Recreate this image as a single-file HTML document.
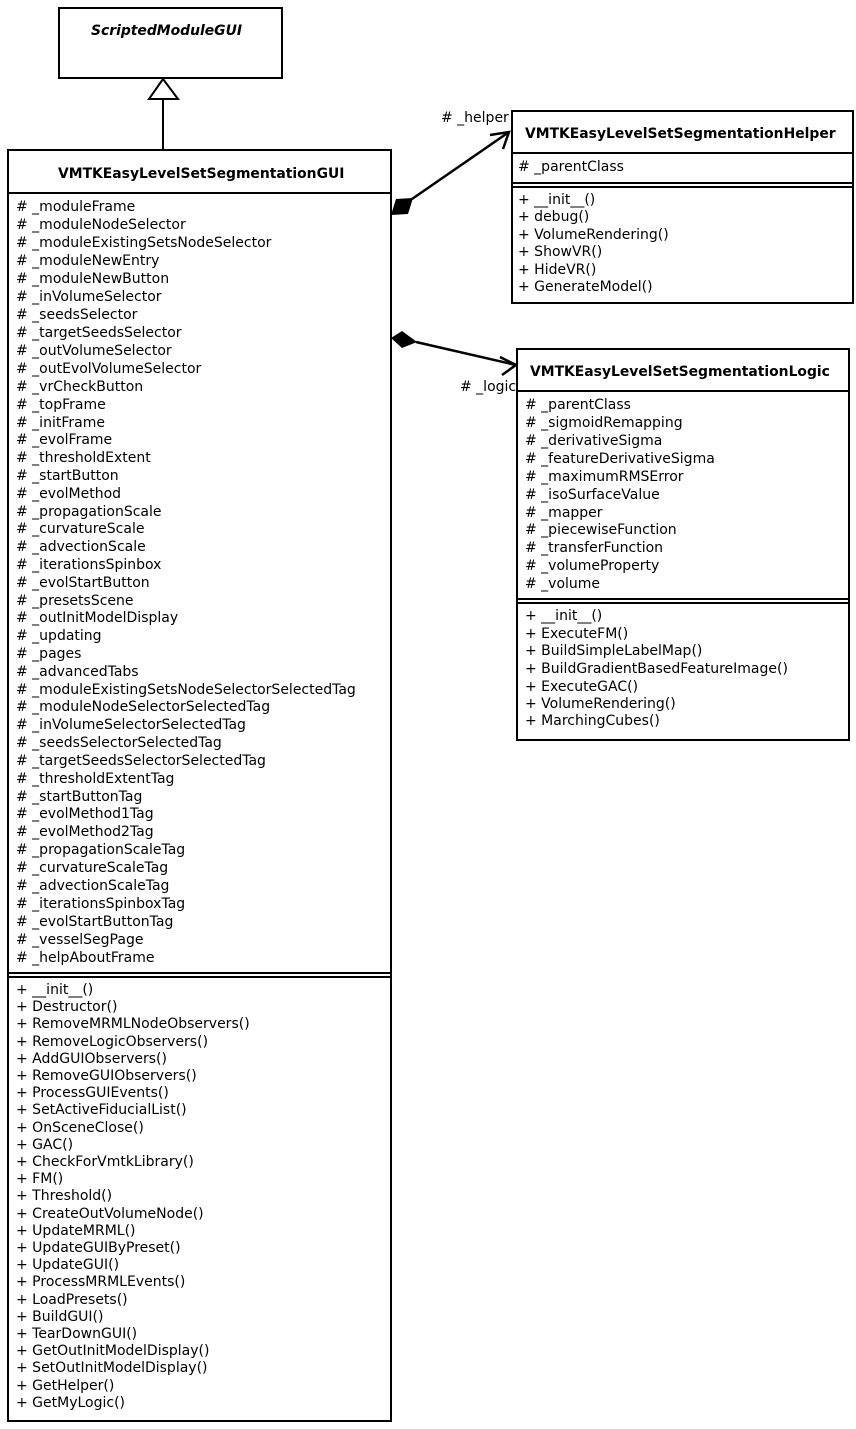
<!DOCTYPE html>
<html><head><meta charset="utf-8"><style>
html,body{margin:0;padding:0;background:#fff;}
svg{display:block;}
text{font-family:"DejaVu Sans","Liberation Sans",sans-serif;font-size:14px;fill:#000;}
.b{font-weight:bold;font-size:13.9px;}
</style></head><body>
<svg width="856" height="1429" viewBox="0 0 856 1429" xmlns="http://www.w3.org/2000/svg">
<g fill="none" stroke="#000" stroke-width="2">
<rect x="59" y="8" width="223" height="70" fill="#fff"/>
<polygon points="163,79 149,99 178,99" fill="#fff"/>
<line x1="163" y1="99" x2="163" y2="150"/>
<rect x="8" y="150" width="383" height="1271"/>
<line x1="8" y1="193" x2="391" y2="193"/>
<line x1="8" y1="973" x2="391" y2="973"/>
<line x1="8" y1="977" x2="391" y2="977"/>
<rect x="512" y="111" width="341" height="192"/>
<line x1="512" y1="153" x2="853" y2="153"/>
<line x1="512" y1="183" x2="853" y2="183"/>
<line x1="512" y1="187" x2="853" y2="187"/>
<rect x="517" y="349" width="332" height="391"/>
<line x1="517" y1="391" x2="849" y2="391"/>
<line x1="517" y1="599" x2="849" y2="599"/>
<line x1="517" y1="603" x2="849" y2="603"/>
<line x1="412" y1="199" x2="509" y2="132" stroke-width="2.5"/>
<polyline points="490,135 509,132 503,149" stroke-width="2.5"/>
<line x1="416" y1="342" x2="516" y2="365" stroke-width="2.5"/>
<polyline points="500,357 516,365 502,375" stroke-width="2.5"/>
</g>
<polygon points="391,215 396,199 413,198 408,214" fill="#000"/>
<polygon points="391,338 402,331 417,342 402,348" fill="#000"/>
<text x="91" y="35" class="b" font-style="italic">ScriptedModuleGUI</text>
<text x="58" y="178" class="b">VMTKEasyLevelSetSegmentationGUI</text>
<text x="525" y="138" class="b">VMTKEasyLevelSetSegmentationHelper</text>
<text x="530" y="376" class="b">VMTKEasyLevelSetSegmentationLogic</text>
<text x="441" y="122">#  _helper</text>
<text x="460" y="391">#  _logic</text>
<g>
<text x="16" y="211">#  _moduleFrame</text>
<text x="16" y="229">#  _moduleNodeSelector</text>
<text x="16" y="247">#  _moduleExistingSetsNodeSelector</text>
<text x="16" y="265">#  _moduleNewEntry</text>
<text x="16" y="283">#  _moduleNewButton</text>
<text x="16" y="301">#  _inVolumeSelector</text>
<text x="16" y="319">#  _seedsSelector</text>
<text x="16" y="337">#  _targetSeedsSelector</text>
<text x="16" y="355">#  _outVolumeSelector</text>
<text x="16" y="373">#  _outEvolVolumeSelector</text>
<text x="16" y="391">#  _vrCheckButton</text>
<text x="16" y="409">#  _topFrame</text>
<text x="16" y="427">#  _initFrame</text>
<text x="16" y="444">#  _evolFrame</text>
<text x="16" y="462">#  _thresholdExtent</text>
<text x="16" y="480">#  _startButton</text>
<text x="16" y="498">#  _evolMethod</text>
<text x="16" y="516">#  _propagationScale</text>
<text x="16" y="533">#  _curvatureScale</text>
<text x="16" y="551">#  _advectionScale</text>
<text x="16" y="569">#  _iterationsSpinbox</text>
<text x="16" y="587">#  _evolStartButton</text>
<text x="16" y="605">#  _presetsScene</text>
<text x="16" y="622">#  _outInitModelDisplay</text>
<text x="16" y="640">#  _updating</text>
<text x="16" y="658">#  _pages</text>
<text x="16" y="676">#  _advancedTabs</text>
<text x="16" y="694">#  _moduleExistingSetsNodeSelectorSelectedTag</text>
<text x="16" y="711">#  _moduleNodeSelectorSelectedTag</text>
<text x="16" y="729">#  _inVolumeSelectorSelectedTag</text>
<text x="16" y="747">#  _seedsSelectorSelectedTag</text>
<text x="16" y="765">#  _targetSeedsSelectorSelectedTag</text>
<text x="16" y="783">#  _thresholdExtentTag</text>
<text x="16" y="801">#  _startButtonTag</text>
<text x="16" y="818">#  _evolMethod1Tag</text>
<text x="16" y="836">#  _evolMethod2Tag</text>
<text x="16" y="854">#  _propagationScaleTag</text>
<text x="16" y="872">#  _curvatureScaleTag</text>
<text x="16" y="890">#  _advectionScaleTag</text>
<text x="16" y="908">#  _iterationsSpinboxTag</text>
<text x="16" y="926">#  _evolStartButtonTag</text>
<text x="16" y="944">#  _vesselSegPage</text>
<text x="16" y="962">#  _helpAboutFrame</text>
</g>
<g>
<text x="16" y="994">+  __init__()</text>
<text x="16" y="1011">+ Destructor()</text>
<text x="16" y="1028">+ RemoveMRMLNodeObservers()</text>
<text x="16" y="1046">+ RemoveLogicObservers()</text>
<text x="16" y="1063">+ AddGUIObservers()</text>
<text x="16" y="1080">+ RemoveGUIObservers()</text>
<text x="16" y="1097">+ ProcessGUIEvents()</text>
<text x="16" y="1114">+ SetActiveFiducialList()</text>
<text x="16" y="1132">+ OnSceneClose()</text>
<text x="16" y="1149">+ GAC()</text>
<text x="16" y="1166">+ CheckForVmtkLibrary()</text>
<text x="16" y="1183">+ FM()</text>
<text x="16" y="1200">+ Threshold()</text>
<text x="16" y="1218">+ CreateOutVolumeNode()</text>
<text x="16" y="1235">+ UpdateMRML()</text>
<text x="16" y="1252">+ UpdateGUIByPreset()</text>
<text x="16" y="1269">+ UpdateGUI()</text>
<text x="16" y="1286">+ ProcessMRMLEvents()</text>
<text x="16" y="1304">+ LoadPresets()</text>
<text x="16" y="1321">+ BuildGUI()</text>
<text x="16" y="1338">+ TearDownGUI()</text>
<text x="16" y="1355">+ GetOutInitModelDisplay()</text>
<text x="16" y="1372">+ SetOutInitModelDisplay()</text>
<text x="16" y="1390">+ GetHelper()</text>
<text x="16" y="1407">+ GetMyLogic()</text>
</g>
<g>
<text x="518" y="171">#  _parentClass</text>
<text x="518" y="204">+  __init__()</text>
<text x="518" y="221">+ debug()</text>
<text x="518" y="239">+ VolumeRendering()</text>
<text x="518" y="256">+ ShowVR()</text>
<text x="518" y="274">+ HideVR()</text>
<text x="518" y="291">+ GenerateModel()</text>
</g>
<g>
<text x="525" y="409">#  _parentClass</text>
<text x="525" y="427">#  _sigmoidRemapping</text>
<text x="525" y="445">#  _derivativeSigma</text>
<text x="525" y="463">#  _featureDerivativeSigma</text>
<text x="525" y="481">#  _maximumRMSError</text>
<text x="525" y="499">#  _isoSurfaceValue</text>
<text x="525" y="517">#  _mapper</text>
<text x="525" y="534">#  _piecewiseFunction</text>
<text x="525" y="552">#  _transferFunction</text>
<text x="525" y="570">#  _volumeProperty</text>
<text x="525" y="588">#  _volume</text>
<text x="525" y="620">+  __init__()</text>
<text x="525" y="638">+ ExecuteFM()</text>
<text x="525" y="655">+ BuildSimpleLabelMap()</text>
<text x="525" y="673">+ BuildGradientBasedFeatureImage()</text>
<text x="525" y="691">+ ExecuteGAC()</text>
<text x="525" y="708">+ VolumeRendering()</text>
<text x="525" y="725">+ MarchingCubes()</text>
</g>
</svg>
</body></html>
